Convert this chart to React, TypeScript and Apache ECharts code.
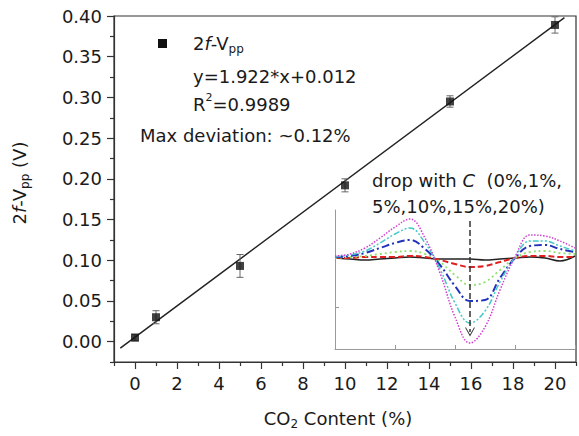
import React, { useEffect, useRef } from "react";
import * as echarts from "echarts";

// Main data: 2f-Vpp vs CO2 content
const co2Content = [0, 1, 5, 10, 15, 20];
const vppValues = [0.005, 0.03, 0.093, 0.192, 0.295, 0.389];
const vppErrors = [0.004, 0.008, 0.014, 0.008, 0.007, 0.01];

// Linear fit line endpoints
const fitX = [-0.7, 20.45];
const fitY = [-0.008, 0.398];

// Axis ticks
const xMajorTicks = [0, 2, 4, 6, 8, 10, 12, 14, 16, 18, 20];
const xMinorTicks = [-1, 1, 3, 5, 7, 9, 11, 13, 15, 17, 19, 21];
const yMajorTicks = [0, 0.05, 0.1, 0.15, 0.2, 0.25, 0.3, 0.35, 0.4];
const yMinorTicks = [-0.025, 0.025, 0.075, 0.125, 0.175, 0.225, 0.275, 0.325, 0.375];

// Inset: 2f signal shapes for different concentrations
const insetX = [0, 0.25, 0.5, 0.75, 1, 1.25, 1.5, 1.75, 2, 2.25, 2.5, 2.75, 3, 3.25, 3.5, 3.75, 4];
const sig0 = [0, -1, -2, -1, 0, 1, 0, -1, -1, -1, -2, -1, 0, 1, 0, -3, 2];
const sig1 = [0, 0, 1, 1, 1, 2, 1, -2, -6, -9, -8, -4, 0, 2, 2, 1, 1];
const sig5 = [0, 1, 2, 4, 6, 7, 4, -4, -17, -27, -24, -12, 0, 6, 7, 5, 4];
const sig10 = [1, 2, 5, 10, 15, 18, 9, -7, -28, -43, -42, -20, 0, 12, 13, 9, 6];
const sig15 = [1, 3, 7, 15, 24, 30, 15, -11, -45, -65, -53, -24, 1, 17, 17, 12, 7];
const sig20 = [2, 4, 10, 20, 31, 39, 20, -15, -59, -85, -69, -32, 1, 23, 22, 17, 10];
const insetTickY = [-49];
const arrowX = 2.25;
const arrowTop = 37;
const arrowBottom = -74;

const FONT = "DejaVu Sans";

const richStyles = {
  i: { fontStyle: "italic", fontSize: 18, fontFamily: FONT, fill: "#1a1a1a", color: "#1a1a1a" },
  sub: { fontSize: 12, fontFamily: FONT, verticalAlign: "bottom", lineHeight: 12, fill: "#1a1a1a", color: "#1a1a1a" },
  sup: { fontSize: 11, fontFamily: FONT, verticalAlign: "top", lineHeight: 11, fill: "#1a1a1a", color: "#1a1a1a" },
};

function txt(text: string, x: number, y: number, extra: any = {}) {
  return {
    type: "text",
    x,
    y,
    ...extra,
    style: {
      text,
      fontSize: 18,
      fontFamily: FONT,
      fill: "#1a1a1a",
      lineHeight: 24,
      align: "left",
      verticalAlign: "middle",
      rich: richStyles,
      ...(extra.style || {}),
    },
  };
}

const hiddenLine = { show: true, onZero: false, lineStyle: { color: "#333", width: 1.2, opacity: 0 } };

export default function App() {
  const ref = useRef<HTMLDivElement>(null);
  useEffect(() => {
    if (!ref.current) return;
    const chart = echarts.init(ref.current, null, { renderer: "svg" });
    const mkInset = (data: number[], color: string, type: any, width: number) => ({
      type: "line",
      xAxisIndex: 2,
      yAxisIndex: 2,
      data: insetX.map((x, i) => [x, data[i]]),
      symbol: "none",
      smooth: 0.4,
      lineStyle: { color, type, width },
      z: 3,
    });
    const option: any = {
      animation: false,
      textStyle: { fontFamily: FONT },
      grid: [
        {
          left: 114,
          right: 3,
          top: 16,
          bottom: 74,
          show: true,
          borderColor: "#333",
          borderWidth: 1.2,
          backgroundColor: "transparent",
          outerBoundsMode: "none",
        },
        { left: 335, top: 210, width: 240, height: 139, show: false, outerBoundsMode: "none" },
      ],
      xAxis: [
        {
          type: "value",
          gridIndex: 0,
          min: -1,
          max: 21,
          position: "bottom",
          offset: 0,
          axisLine: { show: true, onZero: false, lineStyle: { color: "#333", width: 1.2 } },
          axisTick: { show: true, customValues: xMajorTicks, length: 7, inside: false, lineStyle: { color: "#333", width: 1.2 } },
          axisLabel: { show: true, customValues: xMajorTicks, fontSize: 18, color: "#1a1a1a", margin: 12, fontFamily: FONT },
          splitLine: { show: false },
        },
        {
          type: "value",
          gridIndex: 0,
          min: -1,
          max: 21,
          position: "bottom",
          offset: 0,
          axisLine: hiddenLine,
          axisTick: { show: true, customValues: xMinorTicks, length: 4, inside: false, lineStyle: { color: "#333", width: 1.2 } },
          axisLabel: { show: false },
          splitLine: { show: false },
        },
        {
          type: "value",
          gridIndex: 1,
          min: 0,
          max: 4,
          interval: 1,
          position: "bottom",
          offset: 0,
          axisLine: { show: true, onZero: false, lineStyle: { color: "#999", width: 1 } },
          axisTick: { show: true, inside: true, length: 4, lineStyle: { color: "#999" } },
          axisLabel: { show: false },
          splitLine: { show: false },
        },
      ],
      yAxis: [
        {
          type: "value",
          gridIndex: 0,
          min: -0.025,
          max: 0.4,
          position: "left",
          offset: 0,
          axisLine: { show: true, onZero: false, lineStyle: { color: "#333", width: 1.2 } },
          axisTick: { show: true, customValues: yMajorTicks, length: 7, inside: false, lineStyle: { color: "#333", width: 1.2 } },
          axisLabel: {
            show: true,
            customValues: yMajorTicks,
            fontSize: 18,
            color: "#1a1a1a",
            margin: 12,
            fontFamily: FONT,
            formatter: (v: number) => v.toFixed(2),
          },
          splitLine: { show: false },
        },
        {
          type: "value",
          gridIndex: 0,
          min: -0.025,
          max: 0.4,
          position: "left",
          offset: 0,
          axisLine: hiddenLine,
          axisTick: { show: true, customValues: yMinorTicks, length: 4, inside: false, lineStyle: { color: "#333", width: 1.2 } },
          axisLabel: { show: false },
          splitLine: { show: false },
        },
        {
          type: "value",
          gridIndex: 1,
          min: -91,
          max: 48,
          position: "left",
          offset: 0,
          axisLine: { show: true, onZero: false, lineStyle: { color: "#999", width: 1 } },
          axisTick: { show: true, inside: true, length: 4, customValues: insetTickY, lineStyle: { color: "#999" } },
          axisLabel: { show: false },
          splitLine: { show: false },
        },
      ],
      series: [
        {
          type: "line",
          xAxisIndex: 0,
          yAxisIndex: 0,
          data: [
            [fitX[0], fitY[0]],
            [fitX[1], fitY[1]],
          ],
          symbol: "none",
          lineStyle: { color: "#222", width: 1.5 },
          z: 2,
        },
        {
          type: "custom",
          xAxisIndex: 0,
          yAxisIndex: 0,
          data: co2Content.map((x, i) => [x, vppValues[i] - vppErrors[i], vppValues[i] + vppErrors[i]]),
          encode: { x: 0, y: [1, 2] },
          renderItem: (params: any, api: any) => {
            const x = api.value(0);
            const lo = api.coord([x, api.value(1)]);
            const hi = api.coord([x, api.value(2)]);
            const w = 3.5;
            const st = { stroke: "#666", lineWidth: 1 };
            return {
              type: "group",
              children: [
                { type: "line", shape: { x1: lo[0], y1: lo[1], x2: hi[0], y2: hi[1] }, style: st },
                { type: "line", shape: { x1: lo[0] - w, y1: lo[1], x2: lo[0] + w, y2: lo[1] }, style: st },
                { type: "line", shape: { x1: hi[0] - w, y1: hi[1], x2: hi[0] + w, y2: hi[1] }, style: st },
              ],
            };
          },
          z: 3,
        },
        {
          type: "scatter",
          name: "2f-Vpp",
          xAxisIndex: 0,
          yAxisIndex: 0,
          data: co2Content.map((x, i) => [x, vppValues[i]]),
          symbol: "rect",
          symbolSize: 8,
          itemStyle: { color: "#111" },
          z: 4,
        },
        mkInset(sig0, "#222", "solid", 1.5),
        mkInset(sig1, "#e02020", [6, 3], 2),
        mkInset(sig5, "#8ee070", [2, 3], 1.8),
        {
          ...mkInset(sig10, "#2233bb", [8, 3, 2, 3], 2),
          markLine: {
            silent: true,
            symbol: ["none", "path://M0,8 L5,0 L10,8 L9,8 L5,1.8 L1,8 Z"],
            symbolSize: [10, 9],
            label: { show: false },
            lineStyle: { type: [6, 3], color: "#333", width: 1.5 },
            data: [
              [
                { coord: [arrowX, arrowTop] },
                { coord: [arrowX, arrowBottom] },
              ],
            ],
          },
        },
        mkInset(sig15, "#44c8c8", [6, 2, 2, 2, 2, 2], 1.5),
        mkInset(sig20, "#d040d0", [1.5, 1.5], 1.5),
      ],
      graphic: [
        {
          type: "rect",
          shape: { x: 158, y: 39, width: 9, height: 9 },
          style: { fill: "#111" },
        },
        txt("2{i|f}-V{sub|pp}", 193, 43),
        txt("y=1.922*x+0.012", 193, 76),
        txt("R{sup|2}=0.9989", 193, 104),
        txt("Max deviation: ~0.12%", 140, 135),
        txt("drop with {i|C}  (0%,1%,", 372, 180),
        txt("5%,10%,15%,20%)", 372, 206),
        txt("CO{sub|2} Content (%)", 338, 418, { style: { align: "center" } }),
        txt("2{i|f}-V{sub|pp} (V)", 19, 183, { rotation: Math.PI / 2, style: { align: "center" } }),
      ],
    };
    chart.setOption(option);
    return () => chart.dispose();
  }, []);
  return <div ref={ref} style={{ width: 579, height: 436, position: "absolute", left: 0, top: 0, background: "#fff" }} />;
}
